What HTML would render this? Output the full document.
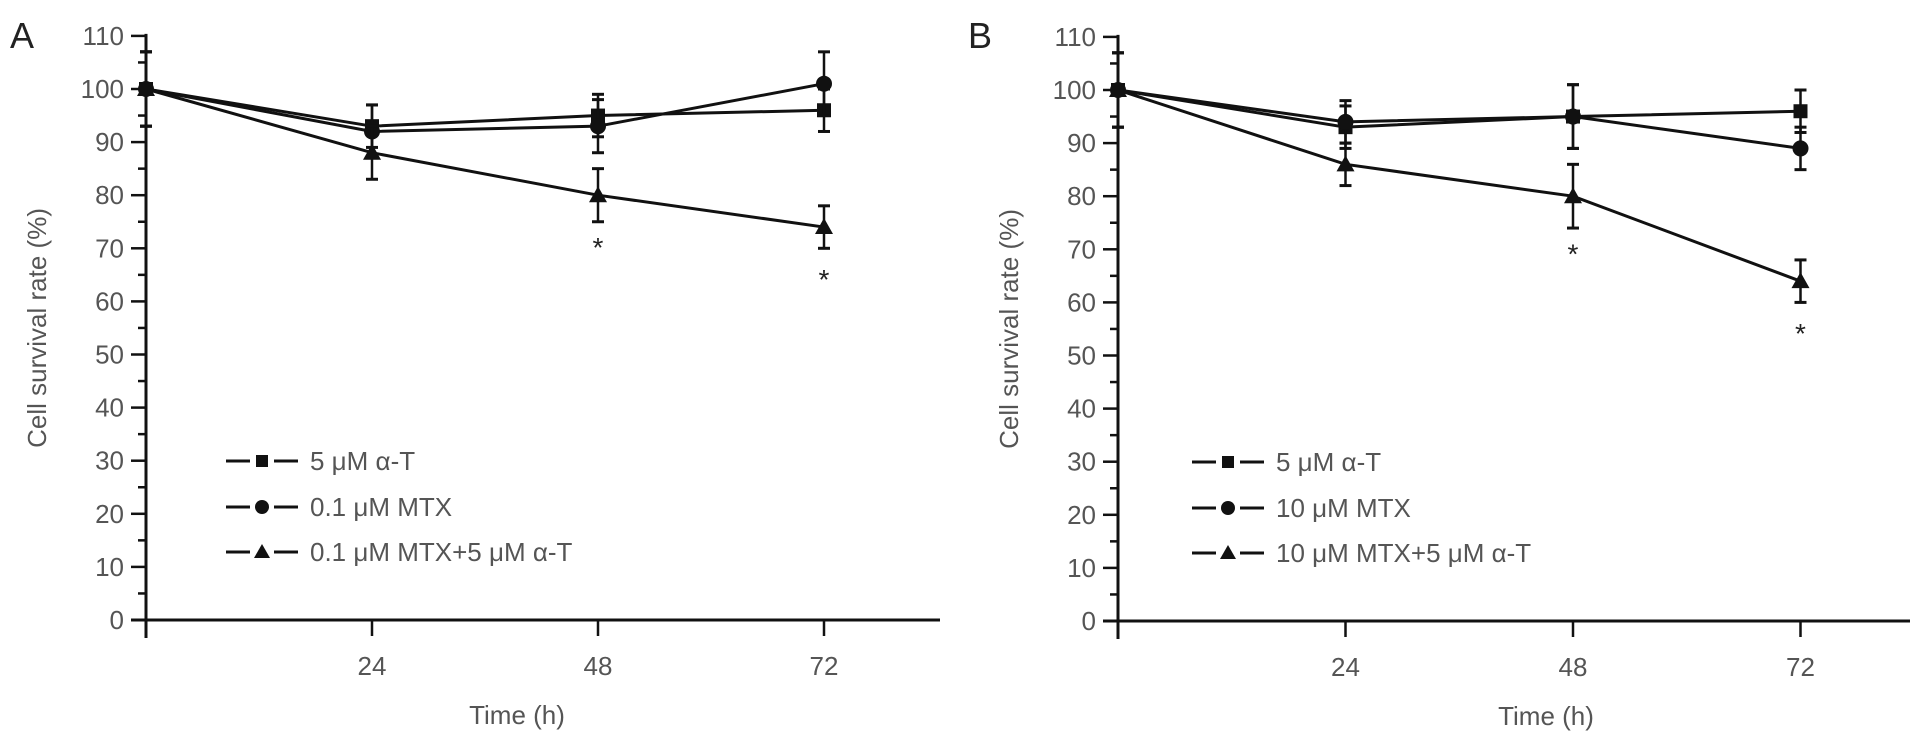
<!DOCTYPE html>
<html><head><meta charset="utf-8"><style>
body{margin:0;background:#fff;}
svg{display:block;font-family:"Liberation Sans",sans-serif;}
.tk{fill:#555;font-size:26px;}
</style></head><body>
<svg id="chart" width="1913" height="743" viewBox="0 0 1913 743" xmlns="http://www.w3.org/2000/svg"></svg>
<script>
const times=[0,24,48,72];
const yTicks=[0,10,20,30,40,50,60,70,80,90,100,110];
const xTickLabels=["24","48","72"];
const aSquare=[100,93,95,96], aSquareErr=[7,4,4,4];
const aCircle=[100,92,93,101], aCircleErr=[7,5,5,6];
const aTri=[100,88,80,74], aTriErr=[7,5,5,4];
const aStars=[[48,71],[72,65]];
const bSquare=[100,93,95,96], bSquareErr=[7,4,6,4];
const bCircle=[100,94,95,89], bCircleErr=[7,4,6,4];
const bTri=[100,86,80,64], bTriErr=[7,4,6,4];
const bStars=[[48,70],[72,55]];
const aLabels=["5 \u03bcM \u03b1-T","0.1 \u03bcM MTX","0.1 \u03bcM MTX+5 \u03bcM \u03b1-T"];
const bLabels=["5 \u03bcM \u03b1-T","10 \u03bcM MTX","10 \u03bcM MTX+5 \u03bcM \u03b1-T"];
const NS="http://www.w3.org/2000/svg";
const svg=document.getElementById('chart');
function mk(t,a,p,txt){const e=document.createElementNS(NS,t);for(const k in a)e.setAttribute(k,a[k]);if(txt!==undefined)e.textContent=txt;(p||svg).appendChild(e);return e;}
function marker(g,type,x,y,s){
  if(type==='square')return mk('rect',{x:x-s/2,y:y-s/2,width:s,height:s,fill:'#111'},g);
  if(type==='circle')return mk('circle',{cx:x,cy:y,r:s/2+1,fill:'#111'},g);
  return mk('polygon',{points:`${x},${y-s/2-2} ${x-s/2-2},${y+s/2} ${x+s/2+2},${y+s/2}`,fill:'#111'},g);
}
function panel(o){
  const g=mk('g',{});
  
  
  const X=t=>o.x0+t*o.px, Y=v=>o.y0-v*5.31;
  const L=mk('text',{x:o.lx,y:48,'font-size':36,fill:'#222'},g,o.letter);
  
  const ax=mk('g',{},g);
  mk('line',{x1:o.x0,y1:Y(110)-2,x2:o.x0,y2:o.y0+18,stroke:'#111','stroke-width':3},ax);
  for(let v=0;v<=110;v+=5){const maj=v%10===0;mk('line',{x1:o.x0-(maj?15:8),y1:Y(v),x2:o.x0,y2:Y(v),stroke:'#111','stroke-width':2.5},ax);}
  yTicks.forEach(v=>{const t=mk('text',{x:o.x0-22,y:Y(v)+9,'text-anchor':'end',class:'tk'},ax,String(v));});
  const yt=mk('text',{x:0,y:0,class:'tk','text-anchor':'middle',transform:`translate(${o.ytx},${Y(55)}) rotate(-90)`},g,'Cell survival rate (%)');
  
  const xa=mk('g',{},g);
  mk('line',{x1:o.x0-15,y1:o.y0,x2:o.xEnd,y2:o.y0,stroke:'#111','stroke-width':3},xa);
  times.forEach(t=>mk('line',{x1:X(t),y1:o.y0,x2:X(t),y2:o.y0+16,stroke:'#111','stroke-width':2.5},xa));
  xTickLabels.forEach((s,i)=>{const t=mk('text',{x:X(times[i+1]),y:o.y0+55,'text-anchor':'middle',class:'tk'},xa,s);});
  const xt=mk('text',{x:o.xtx,y:o.y0+104,'text-anchor':'middle',class:'tk'},g,'Time (h)');
  
  const series=[['square',o.sq,o.sqE,'series-alpha-t'],['circle',o.ci,o.ciE,'series-mtx'],['tri',o.tr,o.trE,'series-mtx-alpha-t']];
  series.forEach(([type,vals,errs,nm])=>{
    const sg=mk('g',{},g);
    mk('polyline',{points:vals.map((v,i)=>X(times[i])+','+Y(v)).join(' '),fill:'none',stroke:'#111','stroke-width':3},sg);
    vals.forEach((v,i)=>{const x=X(times[i]);
      mk('line',{x1:x,y1:Y(v+errs[i]),x2:x,y2:Y(v-errs[i]),stroke:'#111','stroke-width':2.5},sg);
      [v+errs[i],v-errs[i]].forEach(e=>mk('line',{x1:x-6,y1:Y(e),x2:x+6,y2:Y(e),stroke:'#111','stroke-width':3},sg));
      marker(sg,type,x,Y(v),14);});
  });
  o.stars.forEach(([t,v])=>{const s=mk('text',{x:X(t),y:Y(v)+14,'text-anchor':'middle','font-size':28,fill:'#222'},g,'*');});
  const lg=mk('g',{},g);
  ['square','circle','tri'].forEach((type,i)=>{const y=o.legY[i];
    const e=mk('g',{},lg);
    mk('line',{x1:o.legX,y1:y,x2:o.legX+72,y2:y,stroke:'#111','stroke-width':3},e);
    mk('rect',{x:o.legX+24,y:y-5,width:24,height:10,fill:'#fff'},e);
    marker(e,type,o.legX+36,y,12);
    mk('text',{x:o.legX+84,y:y+9,class:'tk','font-size':27},e,o.labels[i]);});
}
panel({name:'panel-a',letter:'A',lx:10,x0:146,y0:620,px:226/24,xEnd:940,ytx:46,xtx:517,sq:aSquare,sqE:aSquareErr,ci:aCircle,ciE:aCircleErr,tr:aTri,trE:aTriErr,stars:aStars,legX:226,legY:[461,507,552],labels:aLabels});
panel({name:'panel-b',letter:'B',lx:968,x0:1118,y0:621,px:227.5/24,xEnd:1910,ytx:1018,xtx:1546,sq:bSquare,sqE:bSquareErr,ci:bCircle,ciE:bCircleErr,tr:bTri,trE:bTriErr,stars:bStars,legX:1192,legY:[462,508,553],labels:bLabels});
</script>
</body></html>
